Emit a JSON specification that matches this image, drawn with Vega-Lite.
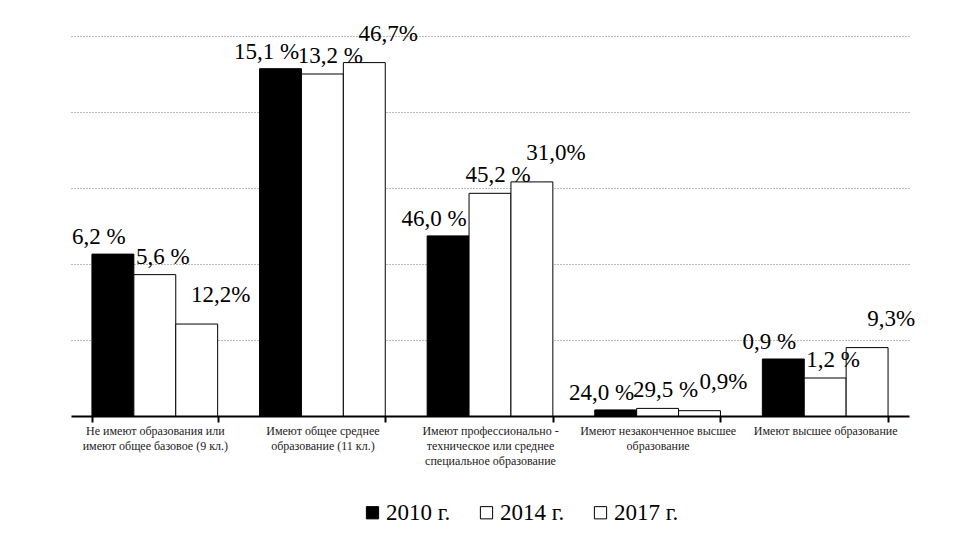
{
  "$schema": "https://vega.github.io/schema/vega-lite/v6.json",
  "width": 838,
  "height": 380,
  "autosize": {"type": "none"},
  "padding": {"left": 71, "top": 36, "right": 49, "bottom": 130},
  "background": "white",
  "config": {
    "view": {"stroke": null},
    "font": "Liberation Serif, Times New Roman, serif"
  },
  "data": {
    "values": [
      {"cat": "Не имеют образования или|имеют общее базовое (9 кл.)", "year": "2010", "value": 21.3, "label": "6,2 %"},
      {"cat": "Не имеют образования или|имеют общее базовое (9 кл.)", "year": "2014", "value": 18.6, "label": "5,6 %"},
      {"cat": "Не имеют образования или|имеют общее базовое (9 кл.)", "year": "2017", "value": 12.1, "label": "12,2%"},
      {"cat": "Имеют общее среднее|образование (11 кл.)", "year": "2010", "value": 45.7, "label": "15,1 %"},
      {"cat": "Имеют общее среднее|образование (11 кл.)", "year": "2014", "value": 45.0, "label": "13,2 %"},
      {"cat": "Имеют общее среднее|образование (11 кл.)", "year": "2017", "value": 46.5, "label": "46,7%"},
      {"cat": "Имеют профессионально -|техническое или среднее|специальное образование", "year": "2010", "value": 23.7, "label": "46,0 %"},
      {"cat": "Имеют профессионально -|техническое или среднее|специальное образование", "year": "2014", "value": 29.3, "label": "45,2 %"},
      {"cat": "Имеют профессионально -|техническое или среднее|специальное образование", "year": "2017", "value": 30.8, "label": "31,0%"},
      {"cat": "Имеют незаконченное высшее|образование", "year": "2010", "value": 0.8, "label": "24,0 %"},
      {"cat": "Имеют незаконченное высшее|образование", "year": "2014", "value": 1.0, "label": "29,5 %"},
      {"cat": "Имеют незаконченное высшее|образование", "year": "2017", "value": 0.7, "label": "0,9%"},
      {"cat": "Имеют высшее образование", "year": "2010", "value": 7.5, "label": "0,9 %"},
      {"cat": "Имеют высшее образование", "year": "2014", "value": 5.0, "label": "1,2 %"},
      {"cat": "Имеют высшее образование", "year": "2017", "value": 9.0, "label": "9,3%"}
    ]
  },
  "encoding": {
    "x": {
      "field": "cat",
      "type": "nominal",
      "sort": null,
      "scale": {"paddingInner": 0.25, "paddingOuter": 0.125},
      "axis": {
        "title": null,
        "labelAngle": 0,
        "labelExpr": "isValid(datum.value) ? split(datum.value, '|') : ''",
        "labelFont": "Liberation Serif, Times New Roman, serif",
        "labelFontSize": 12,
        "labelLineHeight": 15,
        "labelColor": "#222",
        "labelPadding": 3,
        "labelBaseline": "top",
        "labelLimit": 0,
        "tickBand": "extent",
        "tickColor": "black",
        "tickWidth": 2,
        "tickSize": 6,
        "domainColor": "black",
        "domainWidth": 2,
        "grid": false
      }
    },
    "xOffset": {"field": "year", "type": "nominal", "scale": {"paddingInner": 0, "paddingOuter": 0}},
    "y": {
      "field": "value",
      "type": "quantitative",
      "scale": {"domain": [0, 50], "nice": false},
      "axis": {
        "title": null,
        "labels": false,
        "ticks": false,
        "domain": false,
        "grid": true,
        "values": [10, 20, 30, 40, 50],
        "gridColor": "#777",
        "gridDash": [1, 2],
        "gridWidth": 1
      }
    }
  },
  "layer": [
    {
      "mark": {"type": "bar", "stroke": "black", "strokeWidth": 1},
      "encoding": {
        "color": {
          "field": "year",
          "type": "nominal",
          "scale": {"domain": ["2010", "2014", "2017"], "range": ["black", "white", "white"]},
          "legend": {
            "title": null,
            "orient": "none",
            "direction": "horizontal",
            "columns": 3,
            "legendX": 290,
            "legendY": 465,
            "symbolType": "square",
            "symbolSize": 150,
            "symbolStrokeColor": "black",
            "symbolStrokeWidth": 1,
            "labelFont": "Liberation Serif, Times New Roman, serif",
            "labelFontSize": 23,
            "labelColor": "black",
            "labelOffset": 2,
            "columnPadding": 24,
            "padding": 0,
            "labelExpr": "datum.label + ' г.'"
          }
        }
      }
    },
    {
      "transform": [{"filter": "datum.year == '2010'"}],
      "mark": {"type": "text", "baseline": "alphabetic", "dy": -10, "dx": -14, "fontSize": 23, "font": "Liberation Serif, Times New Roman, serif", "color": "black"},
      "encoding": {"text": {"field": "label"}}
    },
    {
      "transform": [{"filter": "datum.year == '2014'"}],
      "mark": {"type": "text", "baseline": "alphabetic", "dy": -11, "dx": 8, "fontSize": 23, "font": "Liberation Serif, Times New Roman, serif", "color": "black"},
      "encoding": {"text": {"field": "label"}}
    },
    {
      "transform": [{"filter": "datum.year == '2017'"}],
      "mark": {"type": "text", "baseline": "alphabetic", "dy": -22, "dx": 24, "fontSize": 23, "font": "Liberation Serif, Times New Roman, serif", "color": "black"},
      "encoding": {"text": {"field": "label"}}
    }
  ]
}
